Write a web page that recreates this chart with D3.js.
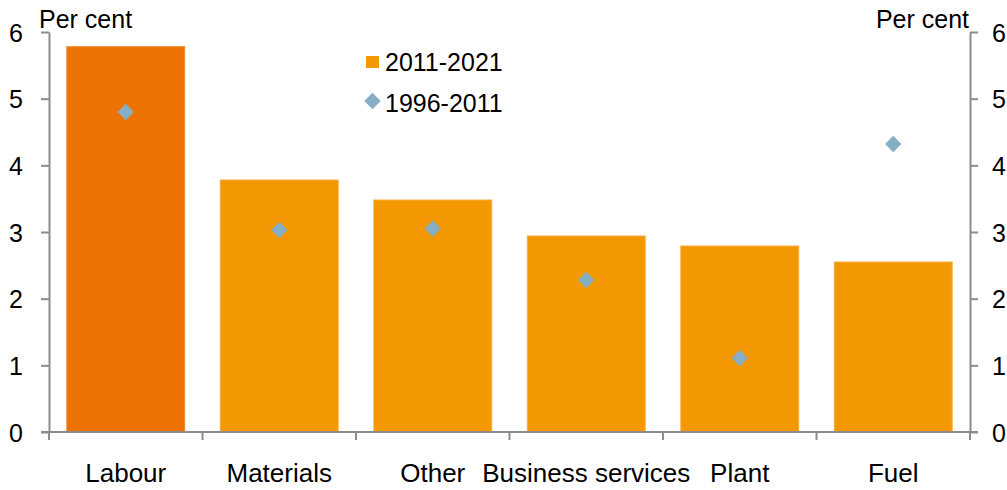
<!DOCTYPE html>
<html>
<head>
<meta charset="utf-8">
<script src="https://d3js.org/d3.v7.min.js"></script>
<style>
  body { margin: 0; background: #fff; }
  svg { display: block; font-family: "Liberation Sans", Arial, sans-serif; }
  .axis path, .axis line { stroke: #8c8c8c; stroke-width: 2; }
  .axis text { font-size: 25px; fill: #000; }
</style>
</head>
<body>
<div id="chart"></div>
<script>
// Data
const categories = ["Labour", "Materials", "Other", "Business services", "Plant", "Fuel"];
const recent = [5.78, 3.78, 3.48, 2.94, 2.79, 2.55];     // 2011-2021
const earlier = [4.80, 3.03, 3.05, 2.28, 1.11, 4.32];    // 1996-2011
const yTicks = [0, 1, 2, 3, 4, 5, 6];

const width = 1007, height = 490;
const margin = { top: 32, right: 37, bottom: 58, left: 49 };
const innerW = width - margin.left - margin.right;
const innerH = height - margin.top - margin.bottom;

const svg = d3.select("#chart").append("svg")
  .attr("width", width).attr("height", height);
const g = svg.append("g").attr("transform", `translate(${margin.left},${margin.top})`);

const x = d3.scaleBand().domain(categories).range([0, innerW]).paddingInner(0.232).paddingOuter(0.116);
const y = d3.scaleLinear().domain([0, 6]).range([innerH, 0]);

// Bars
g.selectAll("rect.bar")
  .data(categories)
  .join("rect")
  .attr("class", "bar")
  .attr("x", d => x(d))
  .attr("width", x.bandwidth())
  .attr("y", (d, i) => y(recent[i]))
  .attr("height", (d, i) => y(0) - y(recent[i]))
  .attr("fill", (d, i) => i === 0 ? "#ee7203" : "#f39800")
  .attr("stroke", (d, i) => i === 0 ? "#f08a30" : "#f6ac40")
  .attr("stroke-width", 1);

// Diamonds
const diamond = d3.symbol().type(d3.symbolDiamond2).size(170);
g.selectAll("path.pt")
  .data(categories)
  .join("path")
  .attr("class", "pt")
  .attr("d", diamond)
  .attr("transform", (d, i) => `translate(${x(d) + x.bandwidth() / 2},${y(earlier[i])})`)
  .attr("fill", "#86afc5");

// Y axes
const fmt = d3.format("d");
const yLeft = g.append("g").attr("class", "axis")
  .call(d3.axisLeft(y).tickValues(yTicks).tickFormat(fmt).tickSize(8).tickPadding(18).tickSizeOuter(0));
const yRight = g.append("g").attr("class", "axis")
  .attr("transform", `translate(${innerW},0)`)
  .call(d3.axisRight(y).tickValues(yTicks).tickFormat(fmt).tickSize(8).tickPadding(14).tickSizeOuter(0));
[yLeft, yRight].forEach(a => a.selectAll("text").attr("dy", "0.36em"));

// X axis: ticks at category boundaries
const xAxis = g.append("g").attr("class", "axis")
  .attr("transform", `translate(0,${innerH})`);
xAxis.append("line")
  .attr("x1", -8).attr("x2", innerW + 8)
  .attr("y1", 0).attr("y2", 0);
const bounds = d3.range(categories.length + 1).map(i => i * x.step());
xAxis.selectAll("line.tick")
  .data(bounds)
  .join("line")
  .attr("class", "tick")
  .attr("x1", d => d).attr("x2", d => d)
  .attr("y1", 0).attr("y2", 8);
xAxis.selectAll("text")
  .data(categories)
  .join("text")
  .attr("x", d => x(d) + x.bandwidth() / 2)
  .attr("y", 50)
  .attr("text-anchor", "middle")
  .style("font-size", "26px")
  .text(d => d);

// Unit labels
svg.append("text").attr("x", 39).attr("y", 28).attr("font-size", 25).text("Per cent");
svg.append("text").attr("x", 969).attr("y", 28).attr("font-size", 25)
  .attr("text-anchor", "end").text("Per cent");

// Legend
const legend = svg.append("g").attr("transform", "translate(366,56)");
legend.append("rect").attr("width", 13).attr("height", 12).attr("fill", "#f39800");
legend.append("text").attr("x", 19).attr("y", 15).attr("font-size", 25).text("2011-2021");
legend.append("path").attr("d", diamond)
  .attr("transform", "translate(6.5,45)").attr("fill", "#86afc5");
legend.append("text").attr("x", 19).attr("y", 56).attr("font-size", 25).text("1996-2011");
</script>
</body>
</html>
